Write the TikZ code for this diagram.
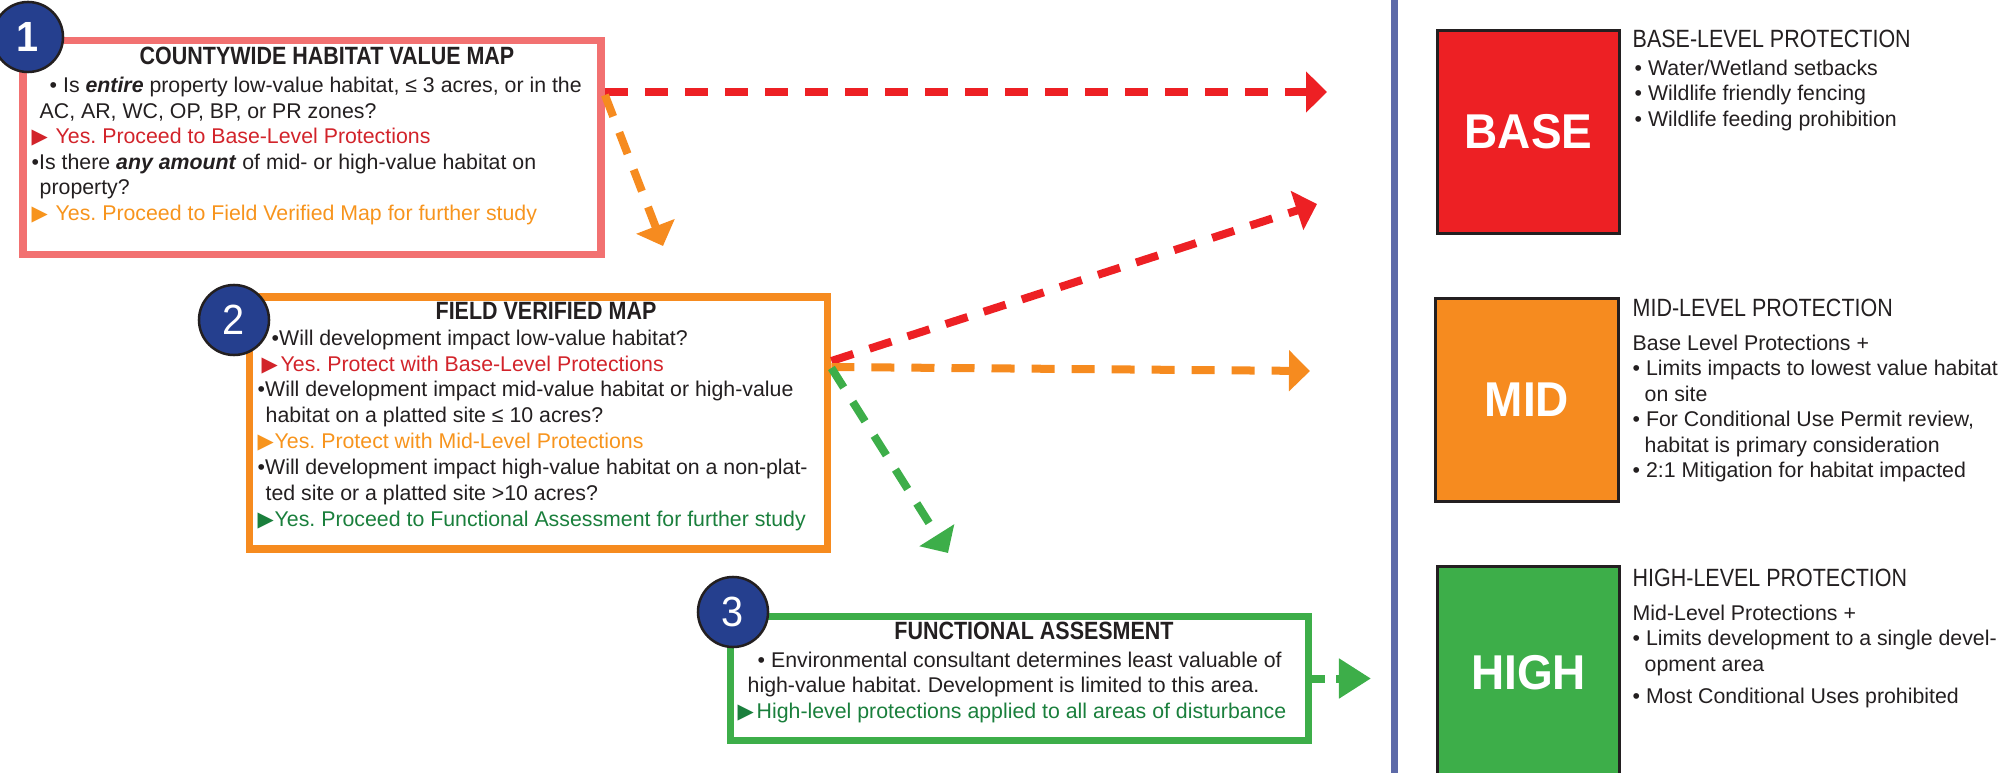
\documentclass[tikz,border=0pt]{standalone}
\usepackage{fontspec}
\setmainfont{Liberation Sans}
\newfontfamily\narrowfont[FakeStretch=0.86]{Liberation Sans}
\newfontfamily\levelfont[FakeStretch=0.94]{Liberation Sans}
\newfontfamily\markfont{DejaVu Sans}
\usetikzlibrary{arrows.meta}
\frenchspacing

\definecolor{cvmpink}{HTML}{F27171}
\definecolor{fvmorange}{HTML}{F68B1F}
\definecolor{fagreen}{HTML}{3DAE49}
\definecolor{basered}{HTML}{ED2024}
\definecolor{redtext}{HTML}{D2232A}
\definecolor{orangetext}{HTML}{F7941D}
\definecolor{greentext}{HTML}{1A7F3C}
\definecolor{stepblue}{HTML}{253F8E}
\definecolor{dividerblue}{HTML}{5D6AA8}
\definecolor{inkgray}{HTML}{231F20}

\newcommand{\yesmark}[2][0.18cm]{\makebox[#1][l]{\color{#2}\markfont\fontsize{6}{6}\selectfont ▶}}

\tikzset{
  stepbox/.style={draw=#1, line width=0.075cm, minimum width=5.78cm, inner sep=0},
  stepnum/.style={circle, draw=inkgray, line width=0.025cm, fill=stepblue, minimum size=0.7cm,
    inner sep=0, text=white, font=\levelfont\fontsize{12}{12}\selectfont},
  steptitle/.style={inner sep=0, text=inkgray, font=\narrowfont\bfseries\fontsize{7.1}{8}\selectfont},
  steptext/.style={anchor=north west, align=left, inner sep=0, text=inkgray,
    font=\fontsize{6.06}{7.25}\selectfont},
  levelbox/.style={draw=inkgray, line width=0.03cm, fill=#1, minimum width=1.82cm, minimum height=2.03cm,
    inner sep=0, text=white, font=\levelfont\bfseries\fontsize{13.9}{14}\selectfont},
  levelhead/.style={anchor=west, inner sep=0, text=inkgray, font=\narrowfont\fontsize{7.1}{8}\selectfont},
  flow/.style={draw=#1, line width=0.08cm, dash pattern=on 0.23cm off 0.17cm,
    -{Triangle[length=0.21cm,width=0.4cm]}},
}

\begin{document}
\begin{tikzpicture}[x=0.01cm, y=-0.01cm]
\clip (0,0) rectangle (2012,773);

\node[stepbox=cvmpink, minimum height=2.14cm] (cvm) at (312,147.5) {};
\node[stepbox=fvmorange, minimum height=2.52cm] (fvm) at (538.5,423) {};
\node[stepbox=fagreen, minimum height=1.24cm] (fa) at (1019.5,678.5) {};

\node[stepnum, font=\levelfont\bfseries\fontsize{12}{12}\selectfont] (n1) at (28,37) {1};
\node[stepnum] (n2) at (234,320) {2};
\node[stepnum] (n3) at (733,612) {3};

\node[steptitle] (t1) at (327,56) {COUNTYWIDE HABITAT VALUE MAP};
\node[steptitle] (t2) at (546,311) {FIELD VERIFIED MAP};
\node[steptitle] (t3) at (1034,631) {FUNCTIONAL ASSESMENT};

\node[steptext] (cvmtext) at (31,76.5) {%
  \hspace*{0.18cm}• Is \textbf{\textit{entire}} property low-value habitat, ≤ 3 acres, or in the\\
  \hspace*{0.08cm}AC, AR, WC, OP, BP, or PR zones?\\
  \yesmark[0.24cm]{redtext}\textcolor{redtext}{Yes. Proceed to Base-Level Protections}\\
  •Is there \textbf{\textit{any amount}} of mid- or high-value habitat on\\
  \hspace*{0.08cm}property?\\
  \yesmark[0.24cm]{orangetext}\textcolor{orangetext}{Yes. Proceed to Field Verified Map for further study}};

\node[steptext, font=\fontsize{6.06}{7.37}\selectfont] (fvmtext) at (257,329) {%
  \hspace*{0.14cm}•Will development impact low-value habitat?\\
  \hspace*{0.04cm}\yesmark[0.19cm]{redtext}\textcolor{redtext}{Yes. Protect with Base-Level Protections}\\
  •Will development impact mid-value habitat or high-value\\
  \hspace*{0.08cm}habitat on a platted site ≤ 10 acres?\\
  \yesmark[0.17cm]{orangetext}\textcolor{orangetext}{Yes. Protect with Mid-Level Protections}\\
  •Will development impact high-value habitat on a non-plat-\\
  \hspace*{0.08cm}ted site or a platted site >10 acres?\\
  \yesmark[0.17cm]{greentext}\textcolor{greentext}{Yes. Proceed to Functional Assessment for further study}};

\node[steptext] (fatext) at (737,651) {%
  \hspace*{0.2cm}• Environmental consultant determines least valuable of\\
  \hspace*{0.1cm}high-value habitat. Development is limited to this area.\\
  \yesmark[0.19cm]{greentext}\textcolor{greentext}{High-level protections applied to all areas of disturbance}};

\draw[dividerblue, line width=0.07cm] (1394.5,0) -- (1394.5,773);

\node[levelbox=basered] (base) at (1528.5,132) {BASE};
\node[levelbox=fvmorange] (mid) at (1527,400) {MID};
\node[levelbox=fagreen, minimum height=2.12cm] (high) at (1528.5,673) {HIGH};

\node[levelhead] (basehead) at (1632,39) {BASE-LEVEL PROTECTION};
\node[levelhead] (midhead) at (1632,308) {MID-LEVEL PROTECTION};
\node[levelhead] (highhead) at (1632,578) {HIGH-LEVEL PROTECTION};

\node[steptext] (baselist) at (1634,59) {%
  • Water/Wetland setbacks\\
  • Wildlife friendly fencing\\
  • Wildlife feeding prohibition};
\node[steptext] (midlist) at (1632,334) {%
  Base Level Protections +\\
  • Limits impacts to lowest value habitat\\
  \hspace*{0.12cm}on site\\
  • For Conditional Use Permit review,\\
  \hspace*{0.12cm}habitat is primary consideration\\
  • 2:1 Mitigation for habitat impacted};
\node[steptext] (highlist) at (1632,604) {%
  Mid-Level Protections +\\
  • Limits development to a single devel-\\
  \hspace*{0.12cm}opment area\\[0.07cm]
  • Most Conditional Uses prohibited};

\coordinate (to-base-a) at (1327,92);
\coordinate (to-fvm) at (663,246);
\coordinate (to-base-b) at (1317,204);
\coordinate (to-mid) at (1310,371);
\coordinate (to-fa) at (948,553);
\coordinate (to-high) at (1371,678.5);

\draw[flow=basered] (cvm.east |- to-base-a) -- (to-base-a);
\draw[flow=fvmorange] (cvm.east |- 0,95) -- (to-fvm);
\draw[flow=basered] (fvm.east |- 0,361) -- (to-base-b);
\draw[flow=fvmorange] (fvm.east |- 0,367) -- (to-mid);
\draw[flow=fagreen] (fvm.east |- 0,368) -- (to-fa);
\draw[flow=fagreen, dash pattern=on 0.13cm off 0.11cm, -{Triangle[length=0.32cm,width=0.38cm]}] (fa.east) -- (to-high);
\end{tikzpicture}
\end{document}
